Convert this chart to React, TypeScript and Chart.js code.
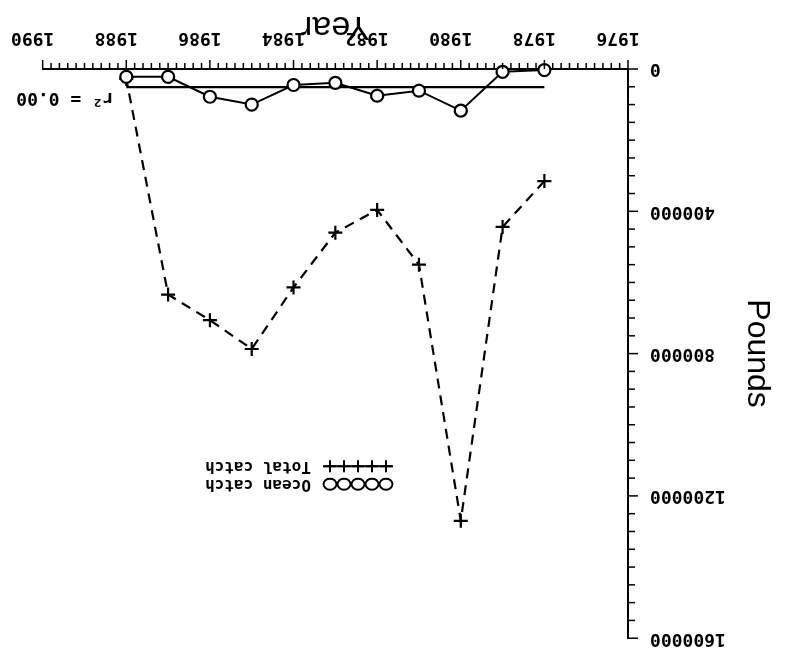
import { useEffect, useRef } from 'react';
import { Chart, registerables } from 'chart.js';

Chart.register(...registerables);

// ---- data ----
const years = [1978, 1979, 1980, 1981, 1982, 1983, 1984, 1985, 1986, 1987, 1988];
const oceanCatch = [3000, 8000, 117000, 61000, 75000, 39000, 45000, 100000, 78000, 22000, 22000];
const totalCatch = [315000, 444000, 1270000, 550000, 396000, 460000, 614000, 787000, 706000, 634000, 28000];
const regressionYears = [1978, 1988];
const regressionValues = [51000, 51000];
const xTickYears = [1976, 1978, 1980, 1982, 1984, 1986, 1988, 1990];
const yTickValues = [0, 400000, 800000, 1200000, 1600000];
const legendLabels = ['Ocean catch', 'Total catch'];
const rSquaredLabel = 'r\u00B2 = 0.00';
const xTitle = 'Year';
const yTitle = 'Pounds';

const near = (a: number, b: number) => Math.abs(a - b) < 1e-6;
const isLabeledYear = (v: number) => xTickYears.some((y) => near(y, v));
const isLabeledValue = (v: number) => yTickValues.some((y) => Math.abs(y - v) < 1);

const MONO = '"DejaVu Sans Mono", monospace';

const decorPlugin = {
  id: 'decor',
  afterDraw(chart: any) {
    const { ctx, chartArea, scales } = chart;
    const xs = scales.x;
    const ys = scales.y;
    ctx.save();
    ctx.strokeStyle = '#000';
    ctx.fillStyle = '#000';
    ctx.lineWidth = 1.5;
    ctx.setLineDash([]);
    // axis tick marks (outward)
    for (const t of xs.ticks) {
      const px = xs.getPixelForValue(t.value);
      const len = isLabeledYear(t.value) ? 9 : 6;
      ctx.beginPath();
      ctx.moveTo(px, chartArea.bottom);
      ctx.lineTo(px, chartArea.bottom + len);
      ctx.stroke();
    }
    for (const t of ys.ticks) {
      const py = ys.getPixelForValue(t.value);
      const len = isLabeledValue(t.value) ? 10 : 7;
      ctx.beginPath();
      ctx.moveTo(chartArea.left, py);
      ctx.lineTo(chartArea.left - len, py);
      ctx.stroke();
    }
    // r^2 annotation near end of regression line
    ctx.font = 'bold 18px ' + MONO;
    ctx.textAlign = 'left';
    ctx.textBaseline = 'middle';
    ctx.fillText(rSquaredLabel, xs.getPixelForValue(1988.3), ys.getPixelForValue(80000));

    // legend
    const lx = chartArea.left + 235;
    const rows = [chartArea.top + 154, chartArea.top + 172];
    ctx.font = 'bold 16px ' + MONO;
    rows.forEach((ry, i) => {
      ctx.lineWidth = 2;
      ctx.beginPath();
      ctx.moveTo(lx, ry);
      ctx.lineTo(lx + 70, ry);
      ctx.stroke();
      for (let k = 0; k < 5; k++) {
        const cx = lx + 7 + k * 14;
        ctx.beginPath();
        if (i === 0) {
          ctx.ellipse(cx, ry, 6.5, 5.5, 0, 0, Math.PI * 2);
          ctx.fillStyle = '#fff';
          ctx.fill();
          ctx.stroke();
        } else {
          ctx.moveTo(cx, ry - 6);
          ctx.lineTo(cx, ry + 6);
          ctx.moveTo(cx - 6, ry);
          ctx.lineTo(cx + 6, ry);
          ctx.stroke();
        }
      }
      ctx.fillStyle = '#000';
      ctx.fillText(legendLabels[i], lx + 82, ry);
    });
    ctx.restore();
  },
};

export default function App() {
  const ref = useRef<HTMLCanvasElement>(null);

  useEffect(() => {
    const canvas = ref.current;
    if (!canvas) return;
    const chart = new Chart(canvas, {
      type: 'line',
      data: {
        datasets: [
          {
            label: legendLabels[0],
            data: years.map((y, i) => ({ x: y, y: oceanCatch[i] })),
            borderColor: '#000',
            backgroundColor: '#fff',
            borderWidth: 2,
            pointStyle: 'circle',
            pointRadius: 6,
            pointBorderWidth: 2.2,
            pointBackgroundColor: '#fff',
            pointBorderColor: '#000',
            clip: false,
          },
          {
            label: legendLabels[1],
            data: years.map((y, i) => ({ x: y, y: totalCatch[i] })),
            borderColor: '#000',
            borderWidth: 2.2,
            borderDash: [10, 7],
            pointStyle: 'cross',
            pointRadius: 7,
            pointBorderWidth: 2.2,
            pointBorderColor: '#000',
            clip: false,
          },
          {
            label: 'regression',
            data: regressionYears.map((y, i) => ({ x: y, y: regressionValues[i] })),
            borderColor: '#000',
            borderWidth: 2.2,
            pointRadius: 0,
            clip: false,
          },
        ],
      },
      options: {
        animation: false,
        responsive: false,
        devicePixelRatio: 1,
        layout: { padding: { left: 0, right: 42, top: 28, bottom: 0 } },
        plugins: {
          legend: { display: false },
          tooltip: { enabled: false },
        },
        scales: {
          x: {
            type: 'linear',
            min: 1976,
            max: 1990,
            afterFit: (s: any) => {
              s.height = 69;
            },
            border: { display: true, color: '#000', width: 2 },
            grid: { drawOnChartArea: false, drawTicks: false },
            ticks: {
              stepSize: 0.2,
              maxTicksLimit: 1000,
              autoSkip: false,
              maxRotation: 0,
              minRotation: 0,
              padding: 21,
              labelOffset: 10,
              color: '#000',
              font: { family: MONO, size: 18, weight: 'bold' },
              callback: (v: any) => {
                const n = Number(v);
                return isLabeledYear(n) ? String(Math.round(n)) : '';
              },
            },
            title: {
              display: true,
              text: xTitle,
              color: '#000',
              font: { family: '"Liberation Sans", sans-serif', size: 34 },
              padding: { top: 0, bottom: 6 },
            },
          },
          y: {
            type: 'linear',
            min: 0,
            max: 1600000,
            afterFit: (s: any) => {
              s.width = 157;
            },
            border: { display: true, color: '#000', width: 2 },
            grid: { drawOnChartArea: false, drawTicks: false },
            ticks: {
              stepSize: 50000,
              maxTicksLimit: 1000,
              autoSkip: false,
              padding: 22,
              color: '#000',
              font: { family: MONO, size: 18, weight: 'bold' },
              callback: (v: any) => {
                const n = Number(v);
                return isLabeledValue(n) ? String(Math.round(n)) : '';
              },
            },
            title: {
              display: true,
              text: yTitle,
              color: '#000',
              font: { family: '"Liberation Sans", sans-serif', size: 32 },
              padding: { top: 9, bottom: 0 },
            },
          },
        },
      },
      plugins: [decorPlugin],
    } as any);
    return () => chart.destroy();
  }, []);

  return (
    <div
      style={{
        position: 'fixed',
        left: 0,
        top: 0,
        width: 785,
        height: 671,
        background: '#fff',
        transform: 'rotate(180deg)',
      }}
    >
      <canvas ref={ref} width={785} height={671} style={{ display: 'block' }} />
    </div>
  );
}
